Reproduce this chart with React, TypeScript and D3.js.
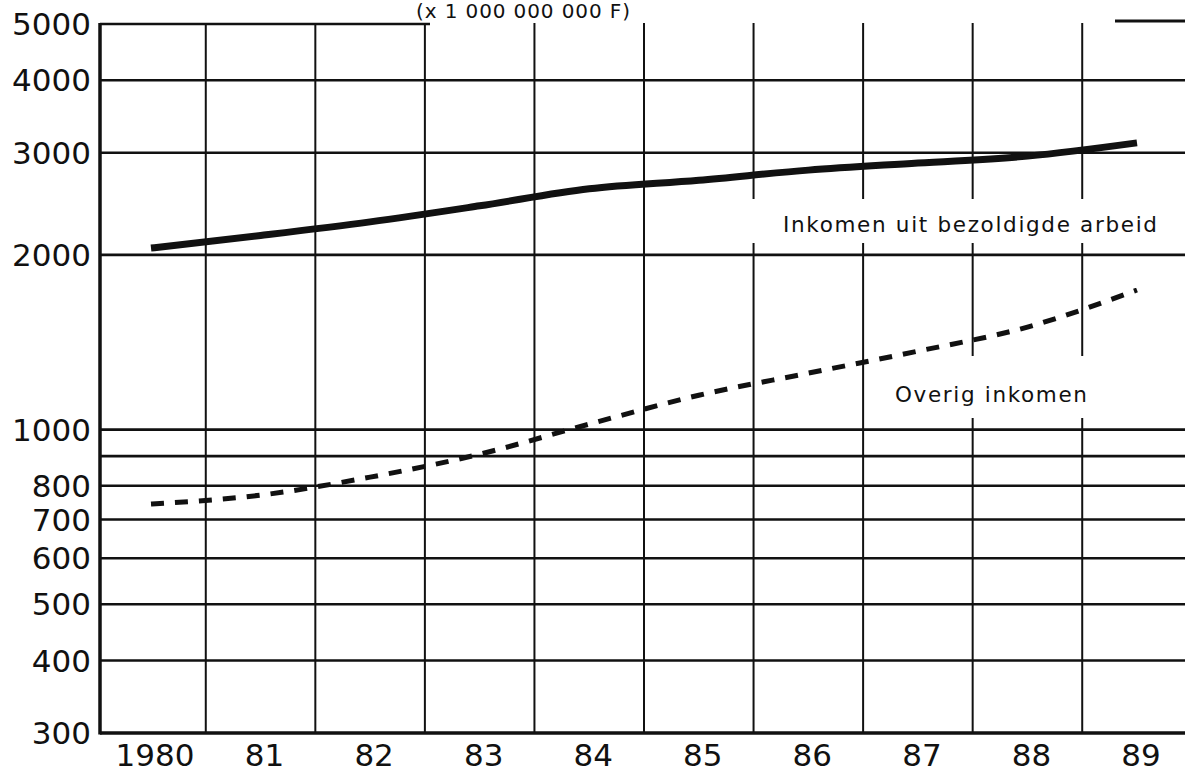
import React from 'react';
import * as d3 from 'd3';

// ---- Data ----
const years = [1980, 1981, 1982, 1983, 1984, 1985, 1986, 1987, 1988, 1989];
const yearLabels = ['1980', '81', '82', '83', '84', '85', '86', '87', '88', '89'];
// Inkomen uit bezoldigde arbeid (x 1 000 000 000 F)
const arbeid = [2055, 2160, 2280, 2430, 2600, 2690, 2800, 2880, 2960, 3120];
// Overig inkomen (x 1 000 000 000 F)
const overig = [744, 771, 828, 907, 1022, 1146, 1251, 1365, 1502, 1740];
const yTickValues = [300, 400, 500, 600, 700, 800, 1000, 2000, 3000, 4000, 5000];
const yTickLabels = ['300', '400', '500', '600', '700', '800', '1000', '2000', '3000', '4000', '5000'];
const yUnlabeledGrid = [900];
const gridYears = [1980.5, 1981.5, 1982.5, 1983.5, 1984.5, 1985.5, 1986.5, 1987.5, 1988.5];

const W = 1185;
const H = 773;
const FONT = "'DejaVu Sans', Verdana, sans-serif";
const INK = '#111';

export default function App() {
  const x = d3.scaleLinear().domain([1980, 1989]).range([151, 1137]);
  const y = d3.scaleLog().domain([300, 5000]).range([733, 24]);
  const axisX = 100;
  const right = W;

  const line = d3
    .line<number>()
    .x((_, i) => x(years[i]))
    .y((d) => y(d))
    .curve(d3.curveMonotoneX);

  const gridHoriz = yTickValues.filter((v) => v !== 300 && v !== 5000).concat(yUnlabeledGrid);

  return (
    <svg
      width={W}
      height={H}
      style={{ position: 'absolute', left: 0, top: 0, background: '#fff' }}
    >
      <rect x={0} y={0} width={W} height={H} fill="#fff" />

      {/* title */}
      <text x={416} y={18} fontFamily={FONT} fontSize={20} fill={INK} textLength={214} lengthAdjust="spacing">
        (x 1 000 000 000 F)
      </text>

      {/* vertical grid lines */}
      {gridYears.map((g) => (
        <line key={g} x1={x(g)} x2={x(g)} y1={y(5000) - 1} y2={y(300)} stroke={INK} strokeWidth={2} />
      ))}

      {/* horizontal grid lines */}
      {gridHoriz.map((v) => (
        <line key={v} x1={axisX} x2={right} y1={y(v)} y2={y(v)} stroke={INK} strokeWidth={2.6} />
      ))}
      {/* top (5000) line, partly faded in the original */}
      <line x1={axisX} x2={430} y1={y(5000)} y2={y(5000)} stroke={INK} strokeWidth={2.6} />
      <line x1={1115} x2={right} y1={y(5000) - 3} y2={y(5000) - 3} stroke={INK} strokeWidth={3} />

      {/* axes */}
      <line x1={axisX} x2={axisX} y1={y(5000) - 1} y2={y(300) + 1.5} stroke={INK} strokeWidth={3.5} />
      <line x1={axisX} x2={right} y1={y(300)} y2={y(300)} stroke={INK} strokeWidth={3.5} />

      {/* label backgrounds (grid is interrupted behind the labels) */}
      <rect x={745} y={199} width={425} height={44} fill="#fff" />
      <rect x={880} y={356} width={220} height={62} fill="#fff" />

      {/* y tick labels */}
      {yTickValues.map((v, i) => (
        <text
          key={v}
          x={91}
          y={y(v)}
          dy="0.36em"
          textAnchor="end"
          fontFamily={FONT}
          fontSize={31}
          fill={INK}
        >
          {yTickLabels[i]}
        </text>
      ))}

      {/* x tick labels */}
      {years.map((yr, i) => (
        <text
          key={yr}
          x={x(yr) + 4}
          y={766}
          textAnchor="middle"
          fontFamily={FONT}
          fontSize={31}
          fill={INK}
        >
          {yearLabels[i]}
        </text>
      ))}

      {/* series */}
      <path d={line(arbeid) || ''} fill="none" stroke={INK} strokeWidth={7} strokeLinecap="butt" />
      <path
        d={line(overig) || ''}
        fill="none"
        stroke={INK}
        strokeWidth={5}
        strokeDasharray="13 11"
        strokeLinecap="butt"
      />

      {/* series labels */}
      <text
        x={783}
        y={232}
        fontFamily={FONT}
        fontSize={21.5}
        fill={INK}
        textLength={374}
        lengthAdjust="spacing"
      >
        Inkomen uit bezoldigde arbeid
      </text>
      <text
        x={895}
        y={402}
        fontFamily={FONT}
        fontSize={21.5}
        fill={INK}
        textLength={192}
        lengthAdjust="spacing"
      >
        Overig inkomen
      </text>
    </svg>
  );
}
